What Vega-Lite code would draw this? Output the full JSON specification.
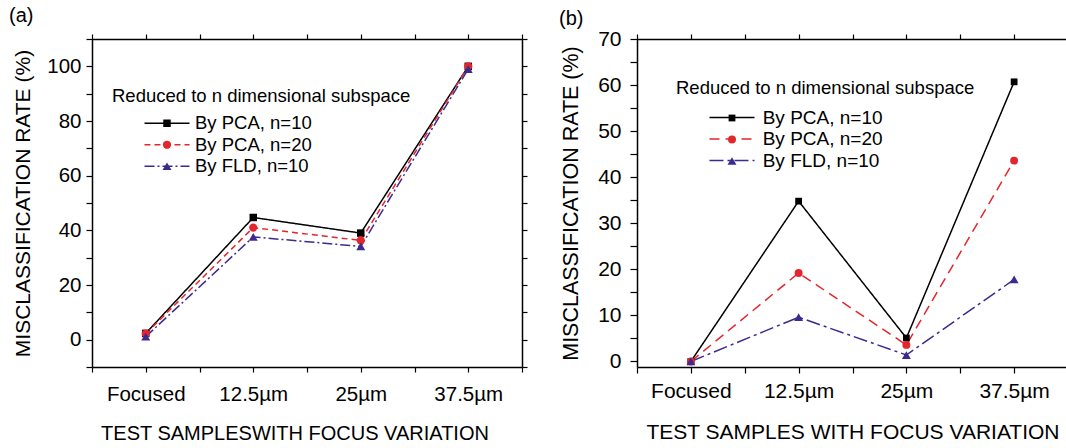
{
  "$schema": "https://vega.github.io/schema/vega-lite/v6.json",
  "padding": {"left": 9, "top": 5, "right": 0, "bottom": 0},
  "spacing": 31,
  "config": {
    "font": "Liberation Sans",
    "view": {"stroke": null},
    "axis": {"domainColor": "#000000", "domainWidth": 1.5, "tickColor": "#000000", "tickWidth": 1.2, "tickSize": 6, "labelColor": "#000000", "titleColor": "#000000", "titleFontWeight": "normal", "labelFontSize": 20.5, "titleFontSize": 21, "grid": false, "labelFont": "Liberation Sans", "titleFont": "Liberation Sans", "labelOverlap": false, "labelFlush": false, "labelBound": false},
    "title": {"font": "Liberation Sans", "fontSize": 20, "fontWeight": "normal", "color": "#000000"},
    "legend": {"labelFont": "Liberation Sans", "titleFont": "Liberation Sans", "padding": 0, "labelColor": "#000000", "titleColor": "#000000", "titleFontWeight": "normal", "labelLimit": 400, "titleLimit": 600, "titleBaseline": "top"}
  },
  "hconcat": [
    {
      "width": 430,
      "height": 328,
      "title": {"text": "(a)", "anchor": "start", "frame": "group", "dx": -83, "offset": -12.5, "baseline": "alphabetic"},
      "data": {"values": [
        {"method": "By PCA, n=10", "defocus_um": 0, "rate": 2.3},
        {"method": "By PCA, n=10", "defocus_um": 12.5, "rate": 44.7},
        {"method": "By PCA, n=10", "defocus_um": 25, "rate": 39.0},
        {"method": "By PCA, n=10", "defocus_um": 37.5, "rate": 100.0},
        {"method": "By PCA, n=20", "defocus_um": 0, "rate": 2.2},
        {"method": "By PCA, n=20", "defocus_um": 12.5, "rate": 41.0},
        {"method": "By PCA, n=20", "defocus_um": 25, "rate": 36.3},
        {"method": "By PCA, n=20", "defocus_um": 37.5, "rate": 100.0},
        {"method": "By FLD, n=10", "defocus_um": 0, "rate": 1.1},
        {"method": "By FLD, n=10", "defocus_um": 12.5, "rate": 37.6},
        {"method": "By FLD, n=10", "defocus_um": 25, "rate": 34.1},
        {"method": "By FLD, n=10", "defocus_um": 37.5, "rate": 99.0}
      ]},
      "layer": [
        {
          "mark": {"type": "line", "strokeWidth": 1.5},
          "encoding": {
            "x": {"field": "defocus_um", "type": "quantitative", "scale": {"domain": [-6.25, 43.75], "nice": false, "zero": false},
              "axis": {"orient": "bottom", "values": [-6.25, 0, 6.25, 12.5, 18.75, 25, 31.25, 37.5, 43.75], "labelExpr": "datum.value === 0 ? 'Focused' : (datum.value % 12.5 === 0 && datum.value > 0 ? datum.value + 'µm' : '')", "labelPadding": 12, "labelFontSize": 20.5, "title": "TEST SAMPLESWITH FOCUS VARIATION", "titleFontSize": 20, "titlePadding": 19, "titleX": 202.5, "tickSize": 5}},
            "y": {"field": "rate", "type": "quantitative", "scale": {"domain": [-10, 110], "nice": false, "zero": false},
              "axis": {"orient": "left", "values": [-10, 0, 10, 20, 30, 40, 50, 60, 70, 80, 90, 100, 110], "labelExpr": "datum.value % 20 === 0 && datum.value >= 0 && datum.value <= 100 ? datum.label : ''", "labelPadding": 5, "title": "MISCLASSIFICATION RATE (%)", "titlePadding": 13}},
            "color": {"field": "method", "type": "nominal",
              "scale": {"domain": ["By PCA, n=10", "By PCA, n=20", "By FLD, n=10"], "range": ["#000000", "#e3262d", "#3c2a8f"]},
              "legend": {"orient": "none", "legendX": 20, "legendY": 47.5, "title": "Reduced to n dimensional subspace", "titleFontSize": 18.5, "titlePadding": 9, "labelFontSize": 18.5, "symbolType": "M-5,0H5", "symbolSize": 81, "symbolStrokeWidth": 1.5, "symbolOffset": 45.75, "labelOffset": 18.75, "rowPadding": 2.5}},
            "strokeDash": {"field": "method", "type": "nominal", "scale": {"domain": ["By PCA, n=10", "By PCA, n=20", "By FLD, n=10"], "range": [[1, 0], [6, 4], [10, 3, 2, 3]]}}
          }
        },
        {
          "mark": {"type": "point", "filled": true, "opacity": 1},
          "encoding": {
            "x": {"field": "defocus_um", "type": "quantitative", "axis": {"orient": "top", "values": [-6.25, 0, 6.25, 12.5, 18.75, 25, 31.25, 37.5, 43.75], "labels": false, "title": null, "tickSize": 5}},
            "y": {"field": "rate", "type": "quantitative", "axis": {"orient": "right", "values": [-10, 0, 10, 20, 30, 40, 50, 60, 70, 80, 90, 100, 110], "labels": false, "title": null, "tickSize": 5}},
            "color": {"field": "method", "type": "nominal",
              "scale": {"domain": ["By PCA, n=10", "By PCA, n=20", "By FLD, n=10"], "range": ["#000000", "#e3262d", "#3c2a8f"]},
              "legend": {"orient": "none", "legendX": 65.75, "legendY": 75, "title": null, "labelFontSize": 18.5, "labelExpr": "''", "symbolOffset": 0, "symbolSize": 95, "rowPadding": 2.5, "symbolOpacity": 1}},
            "shape": {"field": "method", "type": "nominal", "scale": {"domain": ["By PCA, n=10", "By PCA, n=20", "By FLD, n=10"], "range": ["square", "circle", "triangle-up"]}},
            "size": {"field": "method", "type": "ordinal", "scale": {"domain": ["By PCA, n=10", "By PCA, n=20", "By FLD, n=10"], "range": [56, 80, 110]}, "legend": null}
          }
        }
      ],
      "resolve": {"scale": {"color": "independent", "shape": "independent", "size": "independent", "strokeDash": "independent"}, "axis": {"x": "independent", "y": "independent"}}
    },
    {
      "width": 431,
      "height": 328,
      "title": {"text": "(b)", "anchor": "start", "frame": "group", "dx": -78, "offset": -16.5, "baseline": "alphabetic"},
      "data": {"values": [
        {"method": "By PCA, n=10", "defocus_um": 0, "rate": 0},
        {"method": "By PCA, n=10", "defocus_um": 12.5, "rate": 34.8},
        {"method": "By PCA, n=10", "defocus_um": 25, "rate": 5.1},
        {"method": "By PCA, n=10", "defocus_um": 37.5, "rate": 60.7},
        {"method": "By PCA, n=20", "defocus_um": 0, "rate": 0},
        {"method": "By PCA, n=20", "defocus_um": 12.5, "rate": 19.2},
        {"method": "By PCA, n=20", "defocus_um": 25, "rate": 3.6},
        {"method": "By PCA, n=20", "defocus_um": 37.5, "rate": 43.6},
        {"method": "By FLD, n=10", "defocus_um": 0, "rate": 0},
        {"method": "By FLD, n=10", "defocus_um": 12.5, "rate": 9.6},
        {"method": "By FLD, n=10", "defocus_um": 25, "rate": 1.4},
        {"method": "By FLD, n=10", "defocus_um": 37.5, "rate": 17.8}
      ]},
      "layer": [
        {
          "mark": {"type": "line", "strokeWidth": 1.5},
          "encoding": {
            "x": {"field": "defocus_um", "type": "quantitative", "scale": {"domain": [-6.25, 43.75], "nice": false, "zero": false},
              "axis": {"orient": "bottom", "values": [-6.25, 0, 6.25, 12.5, 18.75, 25, 31.25, 37.5, 43.75], "labelExpr": "datum.value === 0 ? 'Focused' : (datum.value % 12.5 === 0 && datum.value > 0 ? datum.value + 'µm' : '')", "labelPadding": 7, "labelFontSize": 21, "title": "TEST SAMPLES WITH FOCUS VARIATION", "titleFontSize": 21, "titlePadding": 20, "tickSize": 6}},
            "y": {"field": "rate", "type": "quantitative", "scale": {"domain": [-1.2, 70], "nice": false, "zero": false},
              "axis": {"orient": "left", "values": [0, 5, 10, 15, 20, 25, 30, 35, 40, 45, 50, 55, 60, 65, 70], "labelExpr": "datum.value % 10 === 0 ? datum.label : ''", "labelPadding": 9, "labelFontSize": 21, "tickSize": 7, "title": "MISCLASSIFICATION RATE (%)", "titleFontSize": 21.5, "titlePadding": 15}},
            "color": {"field": "method", "type": "nominal",
              "scale": {"domain": ["By PCA, n=10", "By PCA, n=20", "By FLD, n=10"], "range": ["#000000", "#e3262d", "#3c2a8f"]},
              "legend": {"orient": "none", "legendX": 39, "legendY": 39.5, "title": "Reduced to n dimensional subspace", "titleFontSize": 18.5, "titlePadding": 11, "labelFontSize": 19, "symbolType": "M-5,0H5", "symbolSize": 81, "symbolStrokeWidth": 1.5, "symbolOffset": 46.5, "labelOffset": 21.2, "rowPadding": 1.5}},
            "strokeDash": {"field": "method", "type": "nominal", "scale": {"domain": ["By PCA, n=10", "By PCA, n=20", "By FLD, n=10"], "range": [[1, 0], [10, 6], [14, 4, 3, 4]]}}
          }
        },
        {
          "mark": {"type": "point", "filled": true, "opacity": 1},
          "encoding": {
            "x": {"field": "defocus_um", "type": "quantitative", "axis": {"orient": "top", "values": [-6.25, 0, 6.25, 12.5, 18.75, 25, 31.25, 37.5, 43.75], "labels": false, "title": null, "tickSize": 5}},
            "y": {"field": "rate", "type": "quantitative", "axis": {"orient": "right", "values": [0, 5, 10, 15, 20, 25, 30, 35, 40, 45, 50, 55, 60, 65, 70], "labels": false, "title": null, "tickSize": 5}},
            "color": {"field": "method", "type": "nominal",
              "scale": {"domain": ["By PCA, n=10", "By PCA, n=20", "By FLD, n=10"], "range": ["#000000", "#e3262d", "#3c2a8f"]},
              "legend": {"orient": "none", "legendX": 85.5, "legendY": 69.5, "title": null, "labelFontSize": 19, "labelExpr": "''", "symbolOffset": 0, "symbolSize": 95, "rowPadding": 1.5, "symbolOpacity": 1}},
            "shape": {"field": "method", "type": "nominal", "scale": {"domain": ["By PCA, n=10", "By PCA, n=20", "By FLD, n=10"], "range": ["square", "circle", "triangle-up"]}},
            "size": {"field": "method", "type": "ordinal", "scale": {"domain": ["By PCA, n=10", "By PCA, n=20", "By FLD, n=10"], "range": [46, 80, 110]}, "legend": null}
          }
        }
      ],
      "resolve": {"scale": {"color": "independent", "shape": "independent", "size": "independent", "strokeDash": "independent"}, "axis": {"x": "independent", "y": "independent"}}
    }
  ],
  "resolve": {
    "scale": {"color": "independent", "strokeDash": "independent", "shape": "independent", "size": "independent", "x": "independent", "y": "independent"}
  }
}
